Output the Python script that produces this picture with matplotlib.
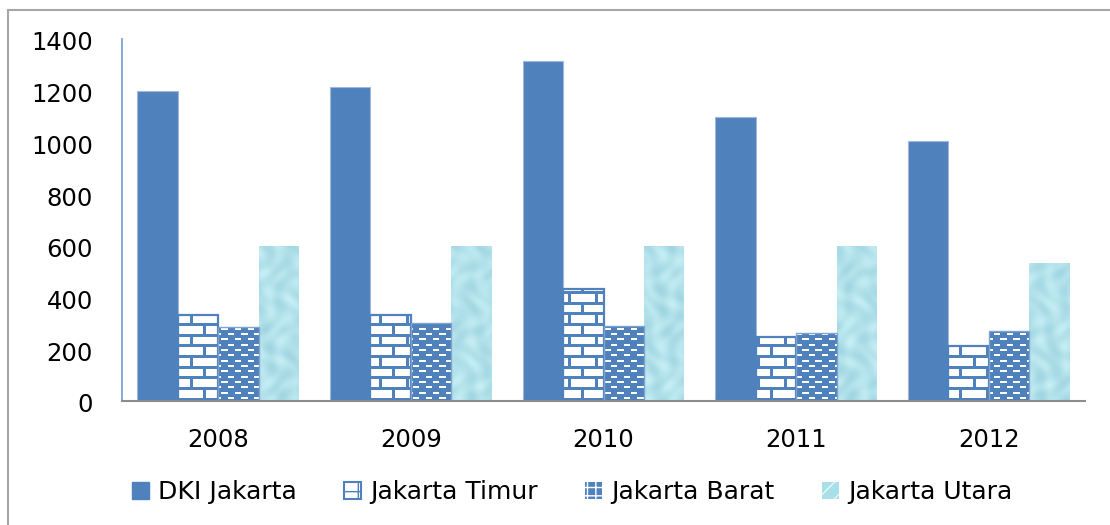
import numpy as np
import matplotlib
matplotlib.use("Agg")
import matplotlib.pyplot as plt
from matplotlib.patches import Patch
from matplotlib.lines import Line2D
from matplotlib.path import Path
from matplotlib.transforms import ScaledTranslation

years = ["2008", "2009", "2010", "2011", "2012"]
series_names = ["DKI Jakarta", "Jakarta Timur", "Jakarta Barat", "Jakarta Utara"]
dki = [1198, 1214, 1315, 1098, 1005]
timur = [333, 333, 432, 246, 214]
barat = [285, 300, 291, 262, 271]
utara = [598, 598, 598, 598, 534]

BLUE = "#4f81bd"
W, H = 1110, 525
fig = plt.figure(figsize=(W / 100, H / 100), dpi=100)
ax_l, ax_r, ax_t, ax_b = 122, 1085, 39, 401
ax = fig.add_axes([ax_l / W, 1 - ax_b / H, (ax_r - ax_l) / W, (ax_b - ax_t) / H])

ax.set_xlim(-0.5, 4.5)
ax.set_ylim(0, 1400)
x = np.arange(len(years))
bw = 0.21
offs = np.array([-1.5, -0.5, 0.5, 1.5]) * bw

b_dki = ax.bar(x + offs[0], dki, bw, color=BLUE, edgecolor="#9db8dc", linewidth=0.8, zorder=3)
b_tim = ax.bar(x + offs[1], timur, bw, facecolor="none", edgecolor=BLUE, linewidth=1.6, zorder=4)
b_bar = ax.bar(x + offs[2], barat, bw, facecolor="none", edgecolor="#7fa2cf", linewidth=1.0, zorder=4)
b_uta = ax.bar(x + offs[3], utara, bw, facecolor="none", edgecolor="none", linewidth=0, zorder=4)

# ---- textures (pixel-sized) ----
PW, PH = ax_r - ax_l, ax_b - ax_t
xx, yy = np.meshgrid(np.arange(PW), np.arange(PH))
blue_rgb = np.array([79, 129, 189]) / 255.0
white = np.array([1.0, 1.0, 1.0])

# brick pattern (white bricks, blue mortar)
py = 32 / 3.0
row = np.floor(yy / py).astype(int)
within_y = yy - row * py
shift = (row % 2) * 13.5
within_x = np.mod(xx + shift, 27.0)
mortar = (within_y < 2.7) | (within_x < 3.0)
tex_tim = np.where(mortar[..., None], blue_rgb, white)

# small brick pattern (blue with white dashes)
py2 = 16 / 3.0
row2 = np.floor(yy / py2).astype(int)
wy2 = yy - row2 * py2
shift2 = (row2 % 2) * 6.6
wx2 = np.mod(xx + shift2, 13.2)
dash = (wy2 >= 1.6) & (wy2 < 3.6) & (wx2 < 6.3)
tex_bar = np.where(dash[..., None], white, blue_rgb)

# water-like texture
f = (np.sin(xx / 4.3 + np.cos(yy / 9.0) * 2.0) * np.cos(yy / 6.1 + np.sin(xx / 7.0))
     + 0.6 * np.sin((xx + yy) / 5.5) * np.sin((xx - yy) / 8.7))
f = (f - f.min()) / (f.max() - f.min())
light = np.array([205, 241, 247]) / 255.0
dark = np.array([135, 196, 211]) / 255.0
tex_uta = light[None, None, :] * (1 - f[..., None] * 0.7) + dark[None, None, :] * (f[..., None] * 0.7)
tex_uta = tex_uta * 0.8 + np.array([172, 228, 238]) / 255.0 * 0.2


def clip_for(bars):
    paths = []
    for b in bars:
        bb = b.get_bbox()
        paths.append(Path([(bb.x0, bb.y0), (bb.x1, bb.y0), (bb.x1, bb.y1), (bb.x0, bb.y1), (bb.x0, bb.y0)],
                          [Path.MOVETO, Path.LINETO, Path.LINETO, Path.LINETO, Path.CLOSEPOLY]))
    return Path.make_compound_path(*paths)


for tex, bars in [(tex_tim, b_tim), (tex_bar, b_bar), (tex_uta, b_uta)]:
    im = ax.imshow(tex, extent=(-0.5, 4.5, 0, 1400), origin="lower", aspect="auto",
                   interpolation="nearest", zorder=2)
    im.set_clip_path(clip_for(bars), ax.transData)

ax.set_xlim(-0.5, 4.5)
ax.set_ylim(0, 1400)

# ---- axes styling ----
for s in ["top", "right"]:
    ax.spines[s].set_visible(False)
ax.spines["left"].set_color("#6f9bd1")
ax.spines["left"].set_linewidth(1.2)
ax.spines["bottom"].set_color("#8c8c8c")
ax.spines["bottom"].set_linewidth(1.5)
ax.spines["bottom"].set_zorder(5)

ax.set_yticks(range(0, 1401, 200))
ax.set_xticks(x)
ax.set_xticklabels(years)
ax.tick_params(axis="y", length=0, pad=21, labelsize=17.5)
ax.tick_params(axis="x", length=0, pad=19.5, labelsize=17.5)
off = ScaledTranslation(0, -2 / 100, fig.dpi_scale_trans)
for lab in ax.get_yticklabels():
    lab.set_transform(lab.get_transform() + off)

# ---- legend ----
handles = [
    Patch(facecolor=BLUE, edgecolor=BLUE),
    Patch(facecolor="white", edgecolor=BLUE, hatch="+", linewidth=1.5),
    Patch(facecolor=BLUE, edgecolor="white", hatch="++", linewidth=0),
    Patch(facecolor="#a9dfe9", edgecolor="#e8f8fb", hatch="//", linewidth=0),
]
fig.legend(handles, series_names, loc="center", bbox_to_anchor=(572 / W, 1 - 492 / H),
           ncol=4, frameon=False, fontsize=18, handlelength=0.68, handleheight=0.68,
           handletextpad=0.36, columnspacing=1.9, borderpad=0, borderaxespad=0)

# ---- chart border (top and left visible) ----
bc = "#a6a6a6"
fig.add_artist(Line2D([8 / W, 1.01], [1 - 10 / H, 1 - 10 / H], transform=fig.transFigure,
                      color=bc, linewidth=1.5))
fig.add_artist(Line2D([8 / W, 8 / W], [1 - 10 / H, -0.01], transform=fig.transFigure,
                      color=bc, linewidth=1.5))

fig.savefig("out.png", dpi=100)
